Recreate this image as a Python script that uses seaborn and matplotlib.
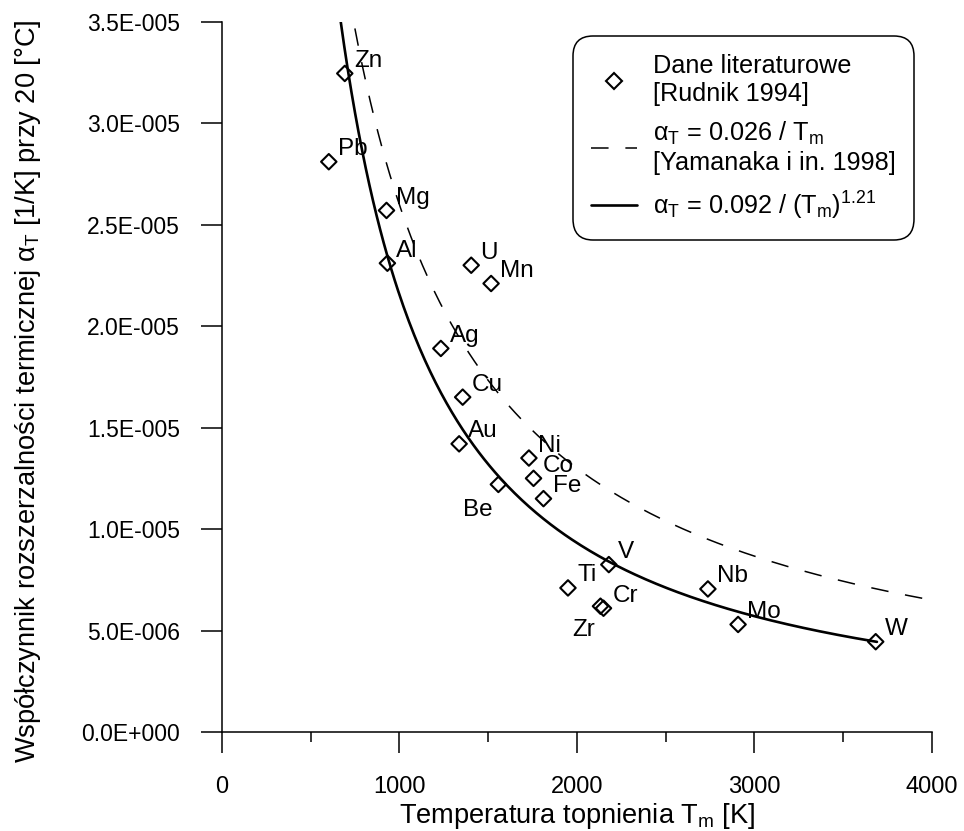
import numpy as np
import pandas as pd
import matplotlib
matplotlib.use("Agg")
import matplotlib.pyplot as plt
from matplotlib.lines import Line2D
import seaborn as sns

# ---------------- data ----------------
elements = ["Zn", "Pb", "Mg", "Al", "U", "Mn", "Ag", "Cu", "Au", "Be",
            "Ni", "Co", "Fe", "V", "Ti", "Cr", "Zr", "Nb", "Mo", "W"]
melting_T = [693, 603, 928, 933, 1405, 1517, 1234, 1357, 1337, 1558,
             1730, 1756, 1812, 2180, 1950, 2150, 2133, 2738, 2908, 3683]
alpha_e5 = [3.245, 2.81, 2.57, 2.31, 2.30, 2.21, 1.89, 1.65, 1.42, 1.22,
            1.35, 1.25, 1.15, 0.825, 0.71, 0.61, 0.62, 0.705, 0.53, 0.445]

# model coefficients shown in the legend
yamanaka_c = 0.026
fit_c = 0.092
fit_exp = 1.21
yamanaka_T_range = (750, 4000)
fit_T_range = (670, 3690)

x_ticks = [0, 1000, 2000, 3000, 4000]
x_tick_labels = ["0", "1000", "2000", "3000", "4000"]
y_ticks = [0.0, 5e-6, 1e-5, 1.5e-5, 2e-5, 2.5e-5, 3e-5, 3.5e-5]
y_tick_labels = ["0.0E+000", "5.0E-006", "1.0E-005", "1.5E-005",
                 "2.0E-005", "2.5E-005", "3.0E-005", "3.5E-005"]

# ---------------- styling ----------------
sns.set_style("ticks")
plt.rcParams["font.family"] = ["Liberation Sans", "DejaVu Sans"]
plt.rcParams["mathtext.fontset"] = "custom"
plt.rcParams["mathtext.rm"] = "Liberation Sans"
plt.rcParams["mathtext.it"] = "Liberation Sans:italic"
plt.rcParams["mathtext.bf"] = "Liberation Sans:bold"
plt.rcParams["text.color"] = "black"
plt.rcParams["axes.labelcolor"] = "black"

df = pd.DataFrame({"element": elements,
                   "T": melting_T,
                   "alpha": np.array(alpha_e5) * 1e-5})

T_dash = np.linspace(*yamanaka_T_range, 300)
curve_dash = pd.DataFrame({"T": T_dash, "alpha": yamanaka_c / T_dash})
T_fit = np.linspace(*fit_T_range, 300)
curve_fit = pd.DataFrame({"T": T_fit, "alpha": fit_c / T_fit ** fit_exp})

DASH = (0, (11.5, 11))

fig = plt.figure(figsize=(9.64, 8.31), dpi=100)
ax = fig.add_axes([0.230, 0.1191, 0.7368, 0.8548])

sns.lineplot(data=curve_dash, x="T", y="alpha", ax=ax, color="black",
             lw=1.1, sort=False, estimator=None)
ax.lines[-1].set_linestyle(DASH)
sns.lineplot(data=curve_fit, x="T", y="alpha", ax=ax, color="black",
             lw=1.9, sort=False, estimator=None)
sns.scatterplot(data=df, x="T", y="alpha", ax=ax, marker="D", s=62,
                facecolor="none", edgecolor="black", linewidth=1.5,
                zorder=3)

# label offsets (points): default up-right, a few special
default_off = (6.5, 4.7)
special_off = {"Be": (-25.6, -22.6), "Zr": (-20.0, -21.6)}
for name, t, a in zip(elements, df["T"], df["alpha"]):
    off = special_off.get(name, default_off)
    ax.annotate(name, (t, a), xytext=off, textcoords="offset points",
                ha="left", va="baseline", fontsize=17.5, color="black")

ax.set_xlim(0, 4000)
ax.set_ylim(0, 3.5e-5)
ax.set_xticks(x_ticks)
ax.set_xticklabels(x_tick_labels, fontsize=17)
ax.set_xticks([500, 1500, 2500, 3500], minor=True)
ax.set_yticks(y_ticks)
ax.set_yticklabels(y_tick_labels, fontsize=16.5)

for s in ["top", "right"]:
    ax.spines[s].set_visible(False)
for s in ["left", "bottom"]:
    ax.spines[s].set_linewidth(1.1)
    ax.spines[s].set_color("black")

ax.tick_params(axis="both", which="major", direction="out", length=15,
               width=1.1, color="black", labelcolor="black")
ax.tick_params(axis="x", which="major", pad=17)
ax.tick_params(axis="y", which="major", pad=15)
ax.tick_params(axis="x", which="minor", direction="out", length=7.5,
               width=1.1, color="black")

ax.set_xlabel(r"Temperatura topnienia T$_\mathrm{m}$ [K]", fontsize=19.6,
              labelpad=1.5, color="black")
ax.set_ylabel(r"Współczynnik rozszerzalności termicznej α$_\mathrm{T}$ [1/K] przy 20 [°C]",
              fontsize=19.6, color="black")
ax.yaxis.set_label_coords(-0.251, 0.48)

handles = [
    Line2D([], [], ls="none", marker="D", markersize=7.8,
           markerfacecolor="none", markeredgecolor="black",
           markeredgewidth=1.5),
    Line2D([], [], color="black", lw=1.1, ls=DASH),
    Line2D([], [], color="black", lw=1.9),
]
labels = [
    "Dane literaturowe\n[Rudnik 1994]",
    r"α$_\mathrm{T}$ = 0.026 / T$_\mathrm{m}$" + "\n[Yamanaka i in. 1998]",
    r"α$_\mathrm{T}$ = 0.092 / (T$_\mathrm{m}$)$^{1.21}$",
]
leg = ax.legend(handles, labels, loc="upper right",
                bbox_to_anchor=(914 / 964, 1 - 36 / 831),
                bbox_transform=fig.transFigure, borderaxespad=0,
                fontsize=18.2, frameon=True, fancybox=True,
                handlelength=1.8, handletextpad=0.65, labelspacing=0.56,
                borderpad=0.72)
frame = leg.get_frame()
frame.set_edgecolor("black")
frame.set_linewidth(1.1)
frame.set_facecolor("white")
frame.set_alpha(1)
frame.set_boxstyle("round,pad=0,rounding_size=0.8")

fig.savefig("out.png", dpi=100)
